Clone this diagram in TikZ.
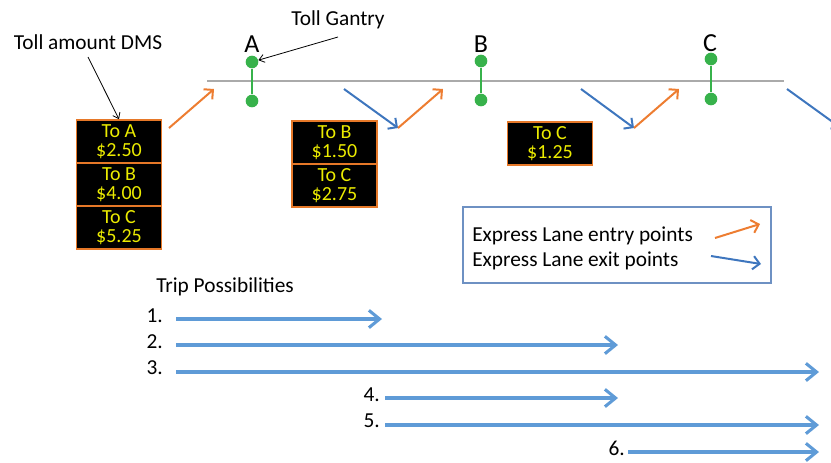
\documentclass[tikz,border=0pt]{standalone}
\usepackage{fontspec}
\setmainfont{Carlito}
\usetikzlibrary{arrows.meta}

\definecolor{roadgray}{RGB}{170,170,170}
\definecolor{gantrygreen}{RGB}{55,178,75}
\definecolor{entryorange}{RGB}{237,125,49}
\definecolor{exitblue}{RGB}{62,118,190}
\definecolor{tripblue}{RGB}{95,155,215}
\definecolor{signedge}{RGB}{230,120,40}
\definecolor{signtext}{RGB}{235,235,0}
\definecolor{legendedge}{RGB}{110,145,195}

\tikzset{
  txt/.style={inner sep=0pt, font=\fontsize{16}{16}\selectfont},
  gantrylabel/.style={inner sep=0pt, font=\fontsize{19.5}{19.5}\selectfont},
  dms/.style={draw=signedge, line width=1.2pt, fill=black, text=signtext,
    minimum width=63.75pt, minimum height=32.25pt, inner sep=0pt,
    align=center, font=\fontsize{15}{14}\selectfont},
  gdot/.style={circle, fill=gantrygreen, inner sep=0pt, minimum size=9.5pt},
  gpost/.style={gantrygreen, line width=2.2pt},
  road/.style={roadgray, line width=2.2pt},
  entry/.style={entryorange, line width=1.5pt,
    -{Straight Barb[length=5pt, width=10pt]}},
  exitarr/.style={exitblue, line width=1.5pt,
    -{Straight Barb[length=5pt, width=10pt]}},
  trip/.style={tripblue, line width=2.3pt,
    -{Straight Barb[length=8pt, width=13pt]}},
  callout/.style={black, line width=0.6pt,
    -{Straight Barb[length=4pt, width=6pt]}},
}

\begin{document}
\begin{tikzpicture}[x=0.75pt, y=-0.75pt]
\useasboundingbox (0,0) rectangle (831,462);
\clip (0,0) rectangle (831,462);

% main road
\coordinate (roadW) at (207,81);
\coordinate (roadE) at (784,81);
\draw[road] (roadW) -- (roadE);

% toll gantries
\node[gdot] (gAt) at (252,62) {};
\node[gdot] (gAb) at (252,101) {};
\node[gdot] (gBt) at (481,61) {};
\node[gdot] (gBb) at (481,100) {};
\node[gdot] (gCt) at (711,59) {};
\node[gdot] (gCb) at (711,99) {};
\draw[gpost] (gAt) -- (gAb);
\draw[gpost] (gBt) -- (gBb);
\draw[gpost] (gCt) -- (gCb);

\node[gantrylabel] (lA) at (252,44) {A};
\node[gantrylabel] (lB) at (481,44) {B};
\node[gantrylabel] (lC) at (710,43) {C};

% callouts
\node[txt] (tgantry) at (338,20) {Toll Gantry};
\node[txt] (tdms) at (88,42) {Toll amount DMS};
\coordinate (tgFrom) at (338,37);
\coordinate (tdFrom) at (88,57);

% dynamic message signs
\node[dms] (s1a) at (119,141.5) {To A\\\$2.50};
\node[dms] (s1b) at (119,184.5) {To B\\\$4.00};
\node[dms] (s1c) at (119,227.5) {To C\\\$5.25};
\node[dms] (s2b) at (334.5,142.5) {To B\\\$1.50};
\node[dms] (s2c) at (334.5,185.5) {To C\\\$2.75};
\node[dms] (s3c) at (550,143.5) {To C\\\$1.25};

\draw[callout] (tgFrom) -- (gAt);
\draw[callout] (tdFrom) -- (s1a.north);

% entry and exit points
\coordinate (en1s) at (169,128);  \coordinate (en1e) at (214,89);
\coordinate (ex1s) at (344,89);   \coordinate (ex1e) at (398,128);
\coordinate (en2s) at (398,128);  \coordinate (en2e) at (443,89);
\coordinate (ex2s) at (581,89);   \coordinate (ex2e) at (634,128);
\coordinate (en3s) at (634,128);  \coordinate (en3e) at (679,89);
\coordinate (ex3s) at (787,89);   \coordinate (ex3e) at (841,128);
\draw[entry] (en1s) -- (en1e);
\draw[exitarr] (ex1s) -- (ex1e);
\draw[entry] (en2s) -- (en2e);
\draw[exitarr] (ex2s) -- (ex2e);
\draw[entry] (en3s) -- (en3e);
\draw[exitarr] (ex3s) -- (ex3e);

% legend
\node[draw=legendedge, line width=0.8pt, minimum width=231pt, minimum height=57pt,
  inner sep=0pt] (legend) at (617,245) {};
\node[txt, anchor=west] (legEn) at (472,236) {Express Lane entry points};
\node[txt, anchor=west] (legEx) at (472,261) {Express Lane exit points};
\coordinate (lgEnS) at (715,238); \coordinate (lgEnE) at (760,224);
\coordinate (lgExS) at (711,256); \coordinate (lgExE) at (761,264);
\draw[entry] (lgEnS) -- (lgEnE);
\draw[exitarr] (lgExS) -- (lgExE);

% trip possibilities
\node[txt, anchor=west] (trips) at (156,287) {Trip Possibilities};
\node[txt, anchor=east] (n1) at (163,316) {1.};
\node[txt, anchor=east] (n2) at (163,342) {2.};
\node[txt, anchor=east] (n3) at (163,368) {3.};
\node[txt, anchor=east] (n4) at (380,395) {4.};
\node[txt, anchor=east] (n5) at (380,421) {5.};
\node[txt, anchor=east] (n6) at (625,448) {6.};

\coordinate (t1s) at (176,319); \coordinate (t1e) at (382,319);
\coordinate (t2s) at (176,345); \coordinate (t2e) at (618,345);
\coordinate (t3s) at (176,372); \coordinate (t3e) at (819,372);
\coordinate (t4s) at (385,398); \coordinate (t4e) at (618,398);
\coordinate (t5s) at (385,425); \coordinate (t5e) at (819,425);
\coordinate (t6s) at (628,452); \coordinate (t6e) at (819,452);
\draw[trip] (t1s) -- (t1e);
\draw[trip] (t2s) -- (t2e);
\draw[trip] (t3s) -- (t3e);
\draw[trip] (t4s) -- (t4e);
\draw[trip] (t5s) -- (t5e);
\draw[trip] (t6s) -- (t6e);
\end{tikzpicture}
\end{document}
